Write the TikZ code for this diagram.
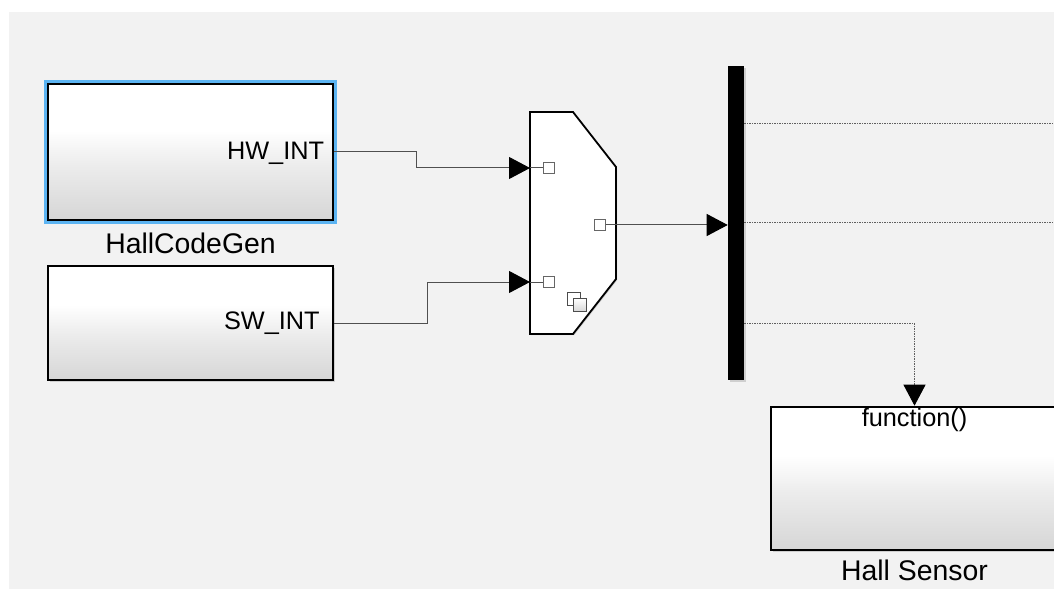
\documentclass[tikz,border=0pt]{standalone}
\usepackage{fontspec}
\setmainfont{Liberation Sans}
\usetikzlibrary{arrows.meta,positioning,shadows}

\definecolor{canvas}{RGB}{242,242,242}
\definecolor{blockbot}{RGB}{214,214,214}
\definecolor{blockmid}{RGB}{236,236,236}
\definecolor{selblue}{RGB}{92,180,242}
\definecolor{wirecol}{RGB}{80,80,80}
\definecolor{fcncol}{RGB}{95,95,95}

% white on top, fading to grey at the bottom
\pgfdeclareverticalshading{blockshade}{100bp}{%
  color(0bp)=(blockbot); color(25bp)=(blockbot); color(45bp)=(blockmid);
  color(58bp)=(white); color(100bp)=(white)}

\tikzset{
  block/.style={draw=black, line width=0.65mm, shade, shading=blockshade,
    minimum width=71.25mm, inner sep=0pt,
    drop shadow={shadow xshift=0.4mm, shadow yshift=-0.4mm, opacity=0.3}},
  selected/.style={preaction={draw=selblue, line width=2mm}},
  portlabel/.style={font=\fontsize{18}{20}\selectfont, inner sep=0pt},
  blocklabel/.style={font=\fontsize{20.2}{23}\selectfont, inner sep=0pt},
  tip/.style={-{Triangle[length=5.25mm, width=5.5mm, color=black]}},
  signal/.style={draw=wirecol, line width=0.25mm},
  fcncall/.style={draw=fcncol, line width=0.25mm,
    dash pattern=on 0.6mm off 0.25mm on 0.15mm off 0.25mm},
  portbox/.style={draw=black!60, fill=white, line width=0.2mm,
    minimum size=2.75mm, inner sep=0pt},
}

\begin{document}
\begin{tikzpicture}[x=0.25mm, y=-0.25mm]
  % canvas (pixel grid, y grows downwards)
  \useasboundingbox (0,0) rectangle (1054,589);
  \clip (0,0) rectangle (1054,589);
  \fill[white] (0,0) rectangle (1054,589);
  \fill[canvas] (9,12) rectangle (1054,589);

  % source blocks
  \node[block, selected, minimum height=34mm] (hallgen) at (190.5,152) {};
  \node[portlabel, anchor=base east] (hwint) at ([xshift=-2.5mm, yshift=-1.8mm]hallgen.east) {HW\_INT};
  \node[blocklabel, anchor=base] (hallgenname) at ([yshift=-8mm]hallgen.south) {HallCodeGen};

  \node[block, minimum height=28.5mm] (swgen) at (190.5,323) {};
  \node[portlabel, anchor=base east] (swint) at ([xshift=-3.6mm, yshift=-1.5mm]swgen.east) {SW\_INT};

  % mux
  \draw[fill=white, line width=0.45mm,
    drop shadow={shadow xshift=0.3mm, shadow yshift=-0.3mm, opacity=0.3}]
    (530,112) -- (573,112) -- (616,167) -- (616,279) -- (573,334) -- (530,334) -- cycle;
  \coordinate (muxin1) at (530,168);
  \coordinate (muxin2) at (530,282);
  \node[portbox] (in1) at (549,168) {};
  \node[portbox] (in2) at (549,282) {};
  \node[portbox] (out) at (600,225) {};
  \draw[signal] (muxin1) -- (in1.west);
  \draw[signal] (muxin2) -- (in2.west);
  % stacked squares icon
  \node[portbox, draw=black!70, minimum size=3.25mm] (stackback) at (573.5,298.5) {};
  \node[portbox, draw=black!70, minimum size=3.25mm, shade, top color=white, bottom color=blockbot] (stackfront) at (579.5,305) {};

  % bus bar
  \node[fill=black, minimum width=4mm, minimum height=78.5mm, inner sep=0pt,
    drop shadow={shadow xshift=0.4mm, shadow yshift=-0.4mm, opacity=0.3}] (bus) at (736,223) {};

  % triggered subsystem
  \node[block, minimum height=35.75mm, minimum width=71.75mm] (hall) at (914.5,478.5) {};
  \node[portlabel, anchor=base] (fcnlabel) at ([yshift=-5.3mm]hall.north) {function()};
  \node[blocklabel, anchor=base] (hallname) at ([yshift=-7.4mm]hall.south) {Hall Sensor};

  % signal lines
  \draw[signal, tip] (hallgen.east) -- ++(82,0) |- (muxin1);
  \draw[signal, tip] (swgen.east) -- ++(93,0) |- (muxin2);
  \draw[signal, tip] (out.east) -- (out.east -| bus.west);

  % function-call outputs
  \coordinate (rim) at (1054,0);
  \foreach \i/\y in {1/124, 2/223, 3/323}
    \coordinate (bus\i) at (744,\y);
  \draw[fcncall] (bus1) -- (bus1 -| rim);
  \draw[fcncall] (bus2) -- (bus2 -| rim);
  \draw[fcncall, tip] (bus3) -| (hall.north);
\end{tikzpicture}
\end{document}
